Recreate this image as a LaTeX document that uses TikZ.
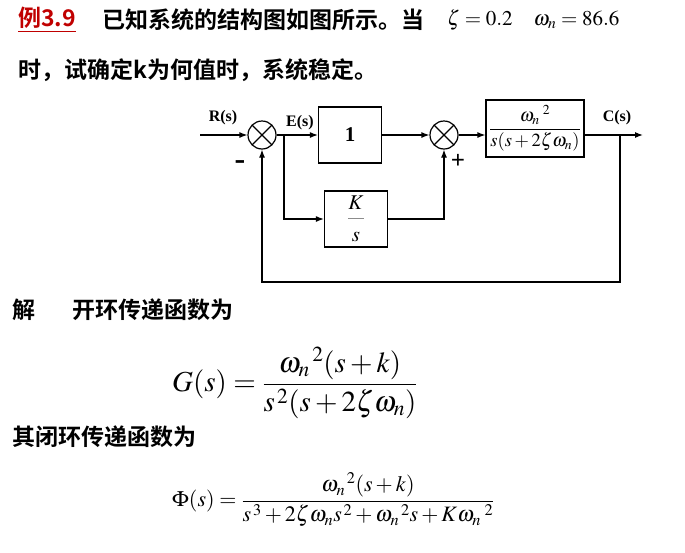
\documentclass[tikz,border=0pt]{standalone}
\usepackage{amsmath}
\usepackage{mathptmx}
\usepackage{fontspec}
\setmainfont{Liberation Serif}
\newfontfamily\cjk[BoldFont={Noto Sans CJK SC Bold}]{Noto Sans CJK SC}
\usetikzlibrary{arrows.meta,positioning}
\definecolor{titlered}{HTML}{C00000}
\definecolor{barcolor}{HTML}{8C8C8C}
\tikzset{
  >={Latex[length=8pt,width=6pt]},
  wire/.style={->,line width=1.2pt},
  block/.style={draw,line width=1.2pt,inner sep=0pt,minimum width=63pt,minimum height=56pt},
  sumj/.style={circle,draw,line width=1.2pt,minimum size=28pt,inner sep=0pt,
               path picture={\draw[line width=1.2pt]
                 (path picture bounding box.45)--(path picture bounding box.225)
                 (path picture bounding box.135)--(path picture bounding box.315);}},
  sig/.style={font=\bfseries\fontsize{16}{18}\selectfont,inner sep=0pt},
  cn/.style={font=\cjk\bfseries\fontsize{23}{26}\selectfont,inner sep=0pt,anchor=west},
  eq/.style={inner sep=0pt,anchor=west}
}
\begin{document}
\begin{tikzpicture}[x=1pt,y=-1pt]
  \useasboundingbox (0,0) rectangle (685,552);
  % problem statement
  \node[cn,text=titlered] (ex) at (18,20) {\underline{例3.9}};
  \node[cn] (q1) at (102,20) {已知系统的结构图如图所示。当};
  \node[eq,font=\fontsize{21}{24}\selectfont] (par) at (447,20) {$\zeta=0.2\quad{\omega_n}=86.6$};
  \node[cn] (q2) at (18,70) {时，试确定k为何值时，系统稳定。};
  % block diagram
  \coordinate (in) at (200,135);
  \coordinate (split) at (284,135);
  \coordinate (take) at (620,135);
  \coordinate (out) at (643,135);
  \coordinate (fb) at (620,282);
  \node[sumj] (sum1) at (262,135) {};
  \node[block,font=\bfseries\fontsize{21}{24}\selectfont] (one) at (350,135) {1};
  \node[sumj] (sum2) at (444,135) {};
  \node[block,minimum width=98pt,minimum height=57pt,font=\fontsize{18.5}{22}\selectfont] (plant) at (535,128.5)
    {$\dfrac{{\omega_n}^{\;2}}{s(s+2\zeta\omega_n)}$};
  \node[block,font=\fontsize{21}{24}\selectfont] (integ) at (356,219)
    {$\color{barcolor}\dfrac{\color{black}K\rule[-6pt]{0pt}{10pt}}{\color{black}\rule{0pt}{20pt}s}$};
  \node[sig] (rlab) at (223,118) {R(s)};
  \node[sig] (elab) at (300,123) {E(s)};
  \node[sig] (clab) at (617,118) {C(s)};
  \node[sig,font=\bfseries\fontsize{32}{32}\selectfont] (minus) at (240,165) {-};
  \node[sig,font=\bfseries\fontsize{25}{26}\selectfont] (plus) at (458,161) {+};
  \draw[wire] (in) -- (sum1.west);
  \draw[wire] (sum1.east) -- (one.west);
  \draw[wire] (one.east) -- (sum2.west);
  \draw[wire] (sum2.east) -- (plant.west |- sum2.east);
  \draw[wire] (plant.east |- take) -- (out);
  \draw[wire] (take) -- (fb) -| (sum1.south);
  \draw[wire] (split) |- (integ.west);
  \draw[wire] (integ.east) -| (sum2.south);
  % solution
  \node[cn] (sol) at (12,310) {解};
  \node[cn] (open) at (72,310) {开环传递函数为};
  \node[eq,font=\fontsize{29}{32}\selectfont] (geq) at (172,383)
    {$G(s)=\dfrac{{\omega_n}^{\,2}(s+k)}{s^{\,2}(s+2\zeta\omega_n)}$};
  \node[cn] (closed) at (12,437) {其闭环传递函数为};
  \node[eq,font=\fontsize{22}{26}\selectfont] (phieq) at (172,500)
    {$\Phi(s)=\dfrac{{\omega_n}^{\,2}(s+k)}{s^{\,3}+2\zeta{\omega_n}s^{\,2}+{\omega_n}^{\,2}s+K{\omega_n}^{\;2}}$};
\end{tikzpicture}
\end{document}
